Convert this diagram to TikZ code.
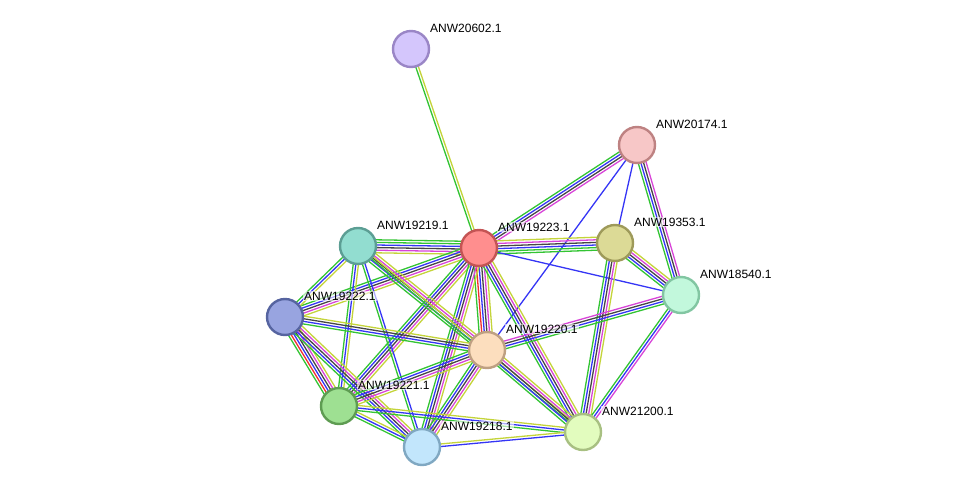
\documentclass[tikz,border=0pt]{standalone}
\usepackage{fontspec}
\setmainfont{Liberation Sans}
\usetikzlibrary{calc}
\pgfdeclarelayer{bg}
\pgfsetlayers{bg,main}
\definecolor{eg}{HTML}{33C433}
\definecolor{eb}{HTML}{3535F5}
\definecolor{em}{HTML}{D844D8}
\definecolor{ek}{HTML}{454545}
\definecolor{ey}{HTML}{C4D43A}
\definecolor{er}{HTML}{F03030}
\tikzset{
  prot/.style={circle, minimum size=36pt, inner sep=0pt, line width=2.4pt},
  plabel/.style={anchor=west, font=\fontsize{12pt}{14pt}\selectfont, inner sep=1pt, fill=white, fill opacity=0.6, text opacity=1},
  edgeline/.style={line width=1.3pt}
}
\newcommand\sedge[4]{%
  \foreach \c [count=\i] in {#4}{%
    \pgfmathsetmacro\off{(\i-(#3+1)/2)*2.6}%
    \draw[\c, edgeline] ($(#1)!\off pt!90:(#2)$) -- ($(#2)!\off pt!-90:(#1)$);
  }%
}
\newcommand\prot[5]{%
  \node[prot, fill=#4, draw=#5] (#1) at (#2) {};
  \node[plabel] (#1l) at ($(#2)+(18,-21)$) {#3};
}
\begin{document}
\begin{tikzpicture}[x=1pt,y=-1pt]
\useasboundingbox (0,0) rectangle (975,493);
\definecolor{f1}{HTML}{D4C6FC}\definecolor{b1}{HTML}{9A86C6}
\definecolor{f2}{HTML}{F7C7C7}\definecolor{b2}{HTML}{BE8282}
\definecolor{f3}{HTML}{FF8E8E}\definecolor{b3}{HTML}{C45454}
\definecolor{f4}{HTML}{92DDD0}\definecolor{b4}{HTML}{5C9E94}
\definecolor{f5}{HTML}{DCDA96}\definecolor{b5}{HTML}{9E9A5A}
\definecolor{f6}{HTML}{C2F8DC}\definecolor{b6}{HTML}{82C6A2}
\definecolor{f7}{HTML}{98A4E0}\definecolor{b7}{HTML}{5664A0}
\definecolor{f8}{HTML}{FCDEBE}\definecolor{b8}{HTML}{BEA082}
\definecolor{f9}{HTML}{9EE092}\definecolor{b9}{HTML}{5E9C52}
\definecolor{f10}{HTML}{C2E6FC}\definecolor{b10}{HTML}{80A8C2}
\definecolor{f11}{HTML}{E2FCBE}\definecolor{b11}{HTML}{A8C082}

\prot{p20602}{411,49}{ANW20602.1}{f1}{b1}
\prot{p20174}{637,145}{ANW20174.1}{f2}{b2}
\prot{p19223}{479,248}{ANW19223.1}{f3}{b3}
\prot{p19219}{358,246}{ANW19219.1}{f4}{b4}
\prot{p19353}{615,243}{ANW19353.1}{f5}{b5}
\prot{p18540}{681,295}{ANW18540.1}{f6}{b6}
\prot{p19222}{285,317}{ANW19222.1}{f7}{b7}
\prot{p19220}{487,350}{ANW19220.1}{f8}{b8}
\prot{p19221}{339,406}{ANW19221.1}{f9}{b9}
\prot{p19218}{422,447}{ANW19218.1}{f10}{b10}
\prot{p21200}{583,432}{ANW21200.1}{f11}{b11}

\begin{pgfonlayer}{bg}
\sedge{p20602}{p19223}{2}{eg,ey}
\sedge{p20174}{p19223}{4}{eg,eb,ek,em}
\sedge{p20174}{p19220}{1}{eb}
\sedge{p20174}{p19353}{1}{eb}
\sedge{p20174}{p18540}{4}{eg,eb,ek,em}
\sedge{p19223}{p19219}{6}{eg,eg,eb,ek,em,ey}
\sedge{p19223}{p19353}{6}{eg,eg,eb,ek,em,ey}
\sedge{p19223}{p18540}{1}{eb}
\sedge{p19223}{p19222}{5}{eg,eb,ek,em,ey}
\sedge{p19223}{p19220}{6}{eg,er,eb,ek,em,ey}
\sedge{p19223}{p19221}{5}{eg,eb,ek,em,ey}
\sedge{p19223}{p19218}{5}{eg,eb,ek,em,ey}
\sedge{p19223}{p21200}{5}{eg,eb,ek,em,ey}
\sedge{p19353}{p18540}{5}{eg,eb,ek,em,ey}
\sedge{p19353}{p21200}{5}{eg,eb,ek,em,ey}
\sedge{p19220}{p18540}{4}{eg,eb,ek,em}
\sedge{p18540}{p21200}{3}{eg,eb,em}
\sedge{p19219}{p19222}{3}{eg,eb,ey}
\sedge{p19219}{p19220}{5}{eg,eb,ek,em,ey}
\sedge{p19219}{p19221}{3}{eg,eb,ey}
\sedge{p19219}{p19218}{2}{eg,eb}
\sedge{p19219}{p21200}{2}{eg,ey}
\sedge{p19222}{p19220}{4}{eg,eb,ek,ey}
\sedge{p19222}{p19221}{6}{eg,er,eb,ek,em,ey}
\sedge{p19222}{p19218}{5}{eg,eb,ek,em,ey}
\sedge{p19220}{p19221}{5}{eg,eb,ek,em,ey}
\sedge{p19220}{p19218}{5}{eg,eb,ek,em,ey}
\sedge{p19220}{p21200}{5}{eg,eb,ek,em,ey}
\sedge{p19221}{p19218}{3}{eg,eb,ey}
\sedge{p19221}{p21200}{3}{eg,eb,ey}
\sedge{p19218}{p21200}{2}{eb,ey}
\end{pgfonlayer}
\end{tikzpicture}
\end{document}
